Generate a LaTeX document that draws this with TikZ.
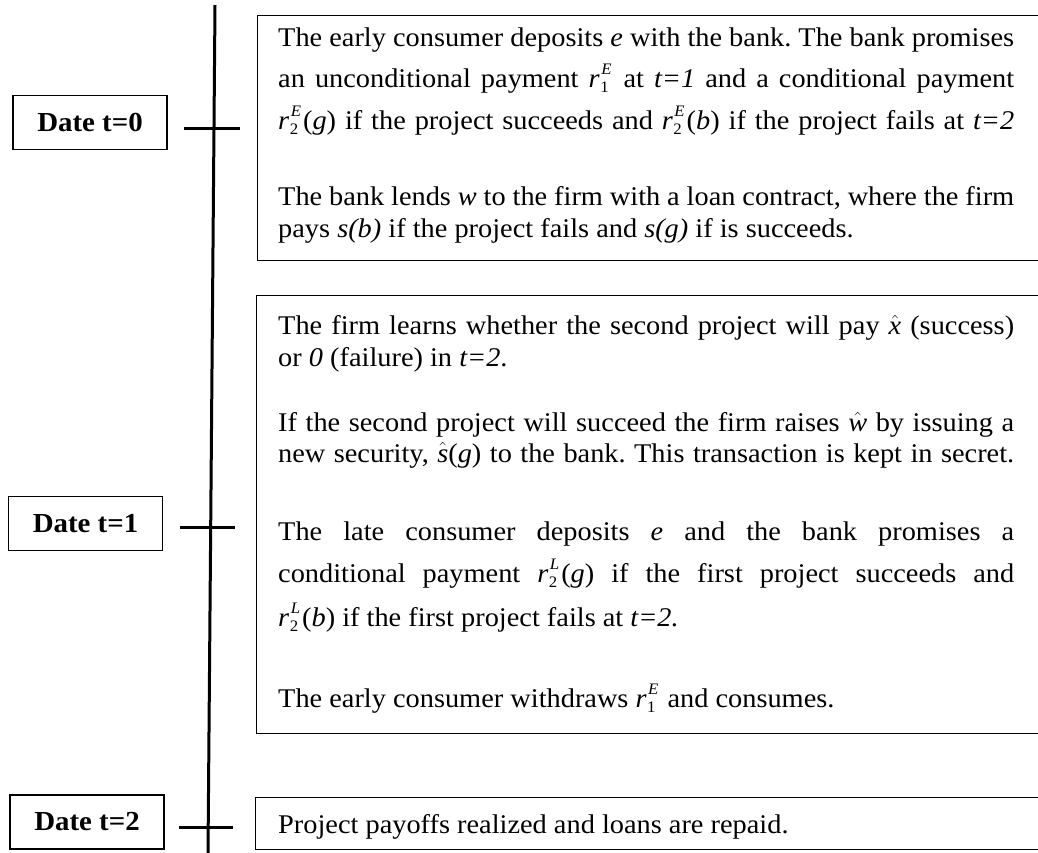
\documentclass[tikz,border=0pt]{standalone}
\usepackage{amsmath}
\usepackage{fontspec}
\setmainfont{Liberation Serif}[FakeStretch=1.05]
\frenchspacing
\newcommand\rr[2]{\textit{r}\kern0.5pt\relax\makebox[0pt][l]{\raisebox{-5.5pt}{\fontsize{16}{16}\selectfont #1}}\kern1pt\relax\raisebox{12.5pt}{\fontsize{16}{16}\selectfont\itshape #2}\kern2pt\relax}
\newcommand\jline[1]{\makebox[736pt][s]{#1}}
\tikzset{
  datebox/.style={draw, line width=1.3pt, minimum width=154pt, minimum height=54pt, inner sep=0pt,
    font=\fontsize{27.5}{30}\selectfont\bfseries},
  tline/.style={line width=3pt},
  evbox/.style={draw, line width=1.3pt, anchor=north west, inner sep=0pt, minimum width=820pt},
  txt/.style={anchor=base west, inner sep=0pt, font=\fontsize{27}{30}\selectfont},
}
\begin{document}
\begin{tikzpicture}[x=1pt,y=-1pt]
\useasboundingbox (0,0) rectangle (1038,852);
\clip (0,0) rectangle (1038,852);
% timeline
\coordinate (vtop) at (215,5);
\coordinate (vbot) at (208,853);
\draw[tline] (vtop) -- (vbot);
% date boxes
\node[datebox] (d0) at (90,122.5) {Date t=0};
\node[datebox] (d1) at (85.5,523.5) {Date t=1};
\node[datebox] (d2) at (87,822) {Date t=2};
% ticks
\coordinate (t0a) at (184,128); \coordinate (t0b) at (240,128);
\coordinate (t1a) at (180,527); \coordinate (t1b) at (235,527);
\coordinate (t2a) at (179,827); \coordinate (t2b) at (233,827);
\draw[tline] (t0a) -- (t0b);
\draw[tline] (t1a) -- (t1b);
\draw[tline] (t2a) -- (t2b);
% event boxes
\node[evbox, minimum height=245pt] (b1) at (257,15) {};
\node[evbox, minimum height=438pt] (b2) at (256,295) {};
\node[evbox, minimum height=52pt] (b3) at (255,797) {};
% box 1 text
\node[txt] (b1l1) at (278,46) {\jline{The early consumer deposits \textit{e} with the bank. The bank promises}};
\node[txt] (b1l2) at (278,87) {\jline{an unconditional payment \rr{1}{E} at \textit{t=1} and a conditional payment}};
\node[txt] (b1l3) at (278,129) {\jline{\rr{2}{E}(\textit{g}) if the project succeeds and \rr{2}{E}(\textit{b}) if the project fails at \textit{t=2}}};
\node[txt] (b1l4) at (278,205) {\jline{The bank lends \textit{w} to the firm with a loan contract, where the firm}};
\node[txt] (b1l5) at (278,237) {pays \textit{s(b)} if the project fails and \textit{s(g)} if is succeeds.};
% box 2 text
\node[txt] (b2l1) at (278,334) {\jline{The firm learns whether the second project will pay $\hat{\textit{x}}$ (success)}};
\node[txt] (b2l2) at (278,366) {or \textit{0} (failure) in \textit{t=2}.};
\node[txt] (b2l3) at (278,431) {\jline{If the second project will succeed the firm raises $\hat{\textit{w}}$ by issuing a}};
\node[txt] (b2l4) at (278,462) {\jline{new security, $\hat{\textit{s}}$(\textit{g}) to the bank. This transaction is kept in secret.}};
\node[txt] (b2l5) at (278,540) {\jline{The late consumer deposits \textit{e} and the bank promises a}};
\node[txt] (b2l6) at (278,582) {\jline{conditional payment \rr{2}{L}(\textit{g}) if the first project succeeds and}};
\node[txt] (b2l7) at (278,626) {\rr{2}{L}(\textit{b}) if the first project fails at \textit{t=2.}};
\node[txt] (b2l8) at (278,707) {The early consumer withdraws \rr{1}{E} and consumes.};
% box 3 text
\node[txt] (b3l1) at (278,833) {Project payoffs realized and loans are repaid.};
\end{tikzpicture}
\end{document}
